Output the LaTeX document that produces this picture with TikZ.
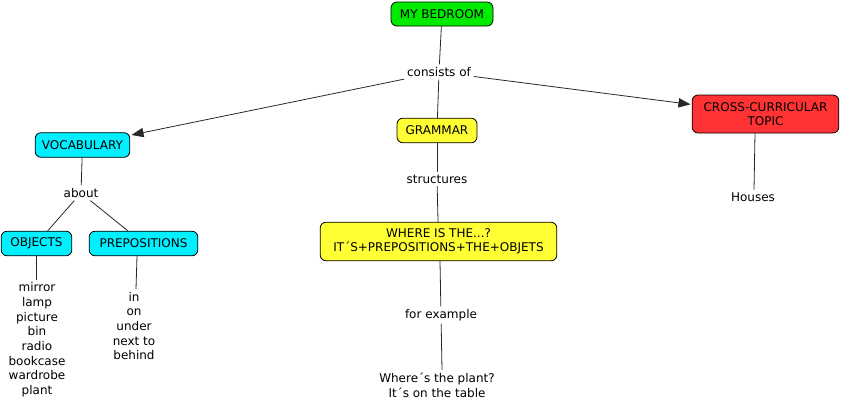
\documentclass[tikz,border=0pt]{standalone}
\usepackage{fontspec}
\setmainfont{DejaVu Sans}
\usetikzlibrary{arrows.meta,calc}
\definecolor{cgreen}{RGB}{0,235,0}
\definecolor{ccyan}{RGB}{0,240,255}
\definecolor{cyellow}{RGB}{255,255,51}
\definecolor{cred}{RGB}{255,51,51}
\definecolor{lnk}{RGB}{40,40,40}
\tikzset{
  concept/.style={draw=black, line width=0.6pt, rounded corners=4.5pt, inner sep=0pt, align=center, font=\fontsize{9}{10.5}\selectfont},
  phrase/.style={inner sep=2pt, align=center, font=\fontsize{9}{11}\selectfont, fill=white},
  link/.style={draw=lnk, line width=0.6pt},
  arr/.style={link, -{Triangle[length=9pt,width=7pt]}, shorten >=1pt}
}
\begin{document}
\begin{tikzpicture}[x=0.75pt, y=-0.75pt]
\useasboundingbox (0,0) rectangle (842,408);
\node[concept, fill=cgreen, minimum width=76.5pt, minimum height=18pt] (bed) at (442,14) {MY BEDROOM};
\node[phrase] (cons) at (439,72) {consists of};
\node[concept, fill=ccyan, minimum width=71pt, minimum height=18.5pt] (voc) at (82.5,145) {VOCABULARY};
\node[concept, fill=cyellow, minimum width=60pt, minimum height=18.5pt] (gram) at (437,130.5) {GRAMMAR};
\node[concept, fill=cred, minimum width=110pt, minimum height=28.5pt] (cross) at (765.5,114) {CROSS-CURRICULAR\\TOPIC};
\node[phrase] (about) at (81,193) {about};
\node[concept, fill=ccyan, minimum width=53pt, minimum height=18.5pt] (obj) at (36.5,243.5) {OBJECTS};
\node[concept, fill=ccyan, minimum width=81.5pt, minimum height=18.5pt] (prep) at (143.5,243.5) {PREPOSITIONS};
\node[phrase] (struct) at (437,179) {structures};
\node[concept, fill=cyellow, minimum width=177.5pt, minimum height=29pt] (where) at (438.5,241.5) {WHERE IS THE...?\\IT´S+PREPOSITIONS+THE+OBJETS};
\node[phrase] (houses) at (753,197) {Houses};
\node[phrase] (objlist) at (37,340) {mirror\\lamp\\picture\\bin\\radio\\bookcase\\wardrobe\\plant};
\node[phrase] (preplist) at (134,326) {in\\on\\under\\next to\\behind};
\node[phrase] (forex) at (441,315) {for example};
\node[phrase] (ex) at (437,385) {Where´s the plant?\\It´s on the table};
\draw[link] (bed) -- (cons);
\draw[arr] (cons) -- (voc);
\draw[link] (cons) -- (gram);
\draw[arr] (cons) -- (cross);
\draw[link] (voc) -- (about);
\draw[link] (about) -- (obj);
\draw[link] (about) -- (prep);
\draw[link] (obj.south) -- (obj.south |- objlist.north);
\draw[link] ($(prep.south)+(-6.5,0)$) -- ($(preplist.north)+(2,0)$);
\draw[link] (gram) -- (struct);
\draw[link] (struct) -- (where);
\draw[link] ($(where.south)+(1.5,0)$) -- (forex);
\draw[link] (forex) -- ($(ex.north)+(5,0)$);
\draw[link] ($(cross.south)+(-10.5,0)$) -- ($(houses.north)+(1,0)$);
\end{tikzpicture}
\end{document}
